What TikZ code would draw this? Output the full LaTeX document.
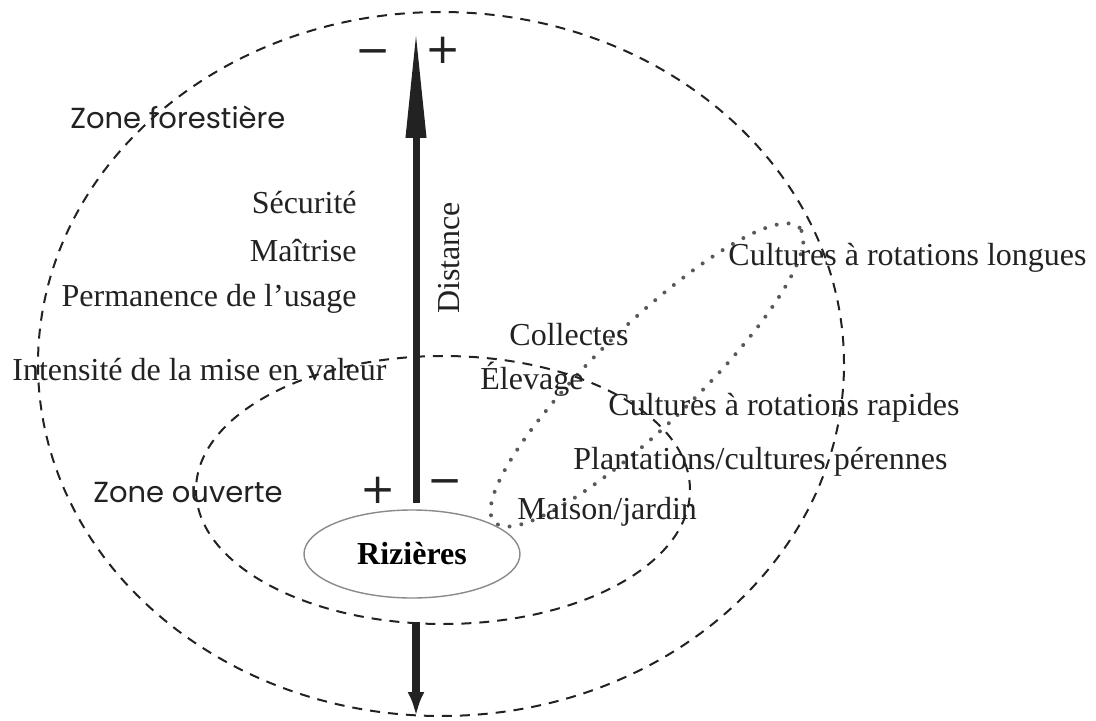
\documentclass[tikz,border=0pt]{standalone}
\usepackage{fontspec}
\setmainfont{Liberation Serif}
\newfontfamily\zonefont{Poppins}
\newfontfamily\signfont{DejaVu Sans}
\usepackage{xcolor}
\definecolor{rzink}{HTML}{222222}
\definecolor{rzgrey}{HTML}{8A8A8A}
\usetikzlibrary{arrows.meta,positioning,shapes.geometric}
\tikzset{
  rzzone/.style={draw=rzink,line width=1pt,dash pattern=on 5pt off 4pt},
  rzdot/.style={draw=rzink!75,line width=2pt,line cap=round,dash pattern=on 0pt off 6pt},
  rzriz/.style={ellipse,draw=rzgrey,line width=0.7pt,minimum width=108pt,minimum height=44pt,inner sep=0pt,font=\fontsize{16}{19}\selectfont\bfseries},
  rztxt/.style={inner sep=0pt,text=rzink,font=\fontsize{16}{19}\selectfont},
  rzzonetxt/.style={inner sep=0pt,text=rzink,font=\zonefont\fontsize{14.5}{17}\selectfont},
  rzsign/.style={inner sep=0pt,text=rzink,font=\signfont\fontsize{21}{23}\selectfont},
  rzaxis/.style={draw=rzink,line width=3.5pt,-{Triangle[length=54pt,width=9.5pt]}},
  rzdown/.style={draw=rzink,line width=4pt,-{Latex[length=12pt,width=8.5pt]}},
}
\begin{document}
\begin{tikzpicture}[x=0.5pt,y=-0.5pt]
\useasboundingbox (0,0) rectangle (1096,721);
% zones
\draw[rzzone] (441,364) ellipse [x radius=201.5pt,y radius=176pt];
\draw[rzzone] (443,490) ellipse [x radius=123.5pt,y radius=67pt];
\draw[rzdot,rotate around={44:(647,375)}] (647,375) ellipse [x radius=106pt,y radius=25pt];
% rice fields and distance axis
\node[rzriz] (riz) at (412,554) {Rizières};
\coordinate (axisbot) at (416,503);
\coordinate (axistop) at (416,30);
\coordinate (downtop) at (416,622);
\coordinate (downend) at (416,716);
\draw[rzaxis] (axisbot) -- (axistop);
\draw[rzdown] (downtop) -- (downend);
\node[rztxt,rotate=90] (dist) at (449,258) {Distance};
\node[rzsign] (mtop) at (373,57) {−};
\node[rzsign] (ptop) at (443,50) {+};
\node[rzsign] (pbot) at (378,490) {+};
\node[rzsign] (mbot) at (445,487) {−};
% left labels
\node[rzzonetxt,anchor=west] (zf) at (70,117) {Zone forestière};
\node[rzzonetxt,anchor=west] (zo) at (93,493) {Zone ouverte};
\node[rztxt,anchor=east] (secu) at (357,203) {Sécurité};
\node[rztxt,anchor=east] (mait) at ([yshift=-24pt]secu.east) {Maîtrise};
\node[rztxt,anchor=east] (perm) at ([yshift=-24pt]mait.east) {Permanence de l’usage};
\node[rztxt,anchor=west] (intens) at (12,370) {Intensité de la mise en valeur};
% right labels
\node[rztxt,anchor=west] (coll) at (509,335) {Collectes};
\node[rztxt,anchor=west] (elev) at (480,379) {Élevage};
\node[rztxt,anchor=west] (longues) at (728,258) {Cultures à rotations longues};
\node[rztxt,anchor=west] (rapides) at (608,408) {Cultures à rotations rapides};
\node[rztxt,anchor=west] (peren) at (573,462) {Plantations/cultures pérennes};
\node[rztxt,anchor=west] (maison) at (517,512) {Maison/jardin};
\end{tikzpicture}
\end{document}
